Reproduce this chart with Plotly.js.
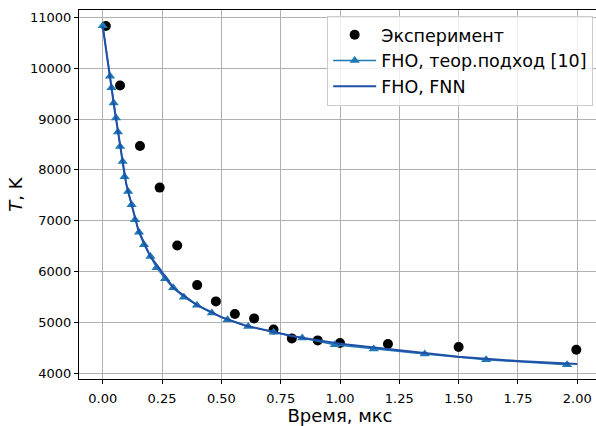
<!DOCTYPE html>
<html>
<head>
<meta charset="utf-8">
<script src="https://cdn.plot.ly/plotly-3.0.1.min.js"></script>
<style>
html, body { margin: 0; padding: 0; overflow: hidden; background: #fff; }
#chart { width: 602px; height: 426px; }
</style>
</head>
<body>
<div id="chart"></div>
<script>
// Experiment (black circles)
const expTime = [0.013, 0.073, 0.157, 0.240, 0.314, 0.398, 0.477, 0.557, 0.638, 0.720, 0.797, 0.906, 1.000, 1.202, 1.500, 1.996];
const expTemp = [10830, 9660, 8470, 7650, 6510, 5730, 5410, 5160, 5075, 4858, 4681, 4642, 4591, 4571, 4512, 4459];

// FHO, theoretical approach [10] (triangles)
const theoTime = [0.000, 0.031, 0.037, 0.046, 0.056, 0.064, 0.073, 0.084, 0.092, 0.107, 0.122, 0.136, 0.153, 0.174, 0.201, 0.227, 0.263, 0.297, 0.342, 0.397, 0.460, 0.526, 0.613, 0.720, 0.841, 0.978, 1.142, 1.357, 1.616, 1.957];
const theoTemp = [10837, 9843, 9616, 9315, 9020, 8744, 8461, 8165, 7864, 7575, 7313, 7018, 6772, 6526, 6295, 6073, 5856, 5679, 5492, 5335, 5181, 5049, 4917, 4803, 4689, 4557, 4472, 4374, 4262, 4163];

// FHO, FNN (solid line)
const fnnTime = [0.000, 0.020, 0.050, 0.100, 0.150, 0.200, 0.300, 0.400, 0.500, 0.600, 0.800, 1.000, 1.250, 1.500, 1.750, 2.000];
const fnnTemp = [10830, 10190, 9180, 7700, 6810, 6300, 5665, 5330, 5100, 4935, 4725, 4575, 4440, 4320, 4235, 4175];

const xTicks = [0.00, 0.25, 0.50, 0.75, 1.00, 1.25, 1.50, 1.75, 2.00];
const xTickText = ["0.00", "0.25", "0.50", "0.75", "1.00", "1.25", "1.50", "1.75", "2.00"];
const yTicks = [4000, 5000, 6000, 7000, 8000, 9000, 10000, 11000];
const yTickText = ["4000", "5000", "6000", "7000", "8000", "9000", "10000", "11000"];

const font = "DejaVu Sans, sans-serif";

const traces = [
  {
    x: expTime, y: expTemp, mode: "markers", type: "scatter",
    name: "Эксперимент",
    marker: { color: "#000000", size: 10, symbol: "circle" }
  },
  {
    x: theoTime, y: theoTemp, mode: "lines+markers", type: "scatter",
    name: "FHO, теор.подход [10]",
    line: { color: "#1f77b4", width: 1.5 },
    marker: { color: "#1f77b4", size: 9, symbol: "triangle-up" }
  },
  {
    x: fnnTime, y: fnnTemp, mode: "lines", type: "scatter",
    name: "FHO, FNN",
    line: { color: "#1f4fa6", width: 2 }
  }
];

const axisCommon = {
  showline: true, linecolor: "#000", linewidth: 1, mirror: true,
  ticks: "outside", ticklen: 4, tickwidth: 1, tickcolor: "#000",
  showgrid: true, gridcolor: "#b0b0b0", gridwidth: 1,
  zeroline: false,
  tickfont: { family: font, size: 13, color: "#000" }
};

const layout = {
  width: 602, height: 426,
  margin: { l: 79, r: 1, t: 10, b: 47 },
  paper_bgcolor: "#fff", plot_bgcolor: "#fff",
  font: { family: font, color: "#000" },
  showlegend: true,
  xaxis: Object.assign({}, axisCommon, {
    range: [-0.1, 2.1],
    tickvals: xTicks, ticktext: xTickText,
    ticklabelstandoff: 3,
    title: { text: "Время, мкс", font: { family: font, size: 18, color: "#000" }, standoff: 9 }
  }),
  yaxis: Object.assign({}, axisCommon, {
    range: [3882, 11146],
    tickvals: yTicks, ticktext: yTickText,
    title: { text: "<i>T</i>, K", font: { family: font, size: 18, color: "#000" }, standoff: 2 }
  }),
  legend: {
    x: 0.985, xanchor: "right", y: 0.984, yanchor: "top",
    bgcolor: "rgba(255,255,255,0.8)", bordercolor: "#cccccc", borderwidth: 1,
    font: { family: font, size: 17.5, color: "#000" },
    itemwidth: 43,
    tracegroupgap: 0
  }
};

Plotly.newPlot("chart", traces, layout, { displayModeBar: false, staticPlot: true });
</script>
</body>
</html>
